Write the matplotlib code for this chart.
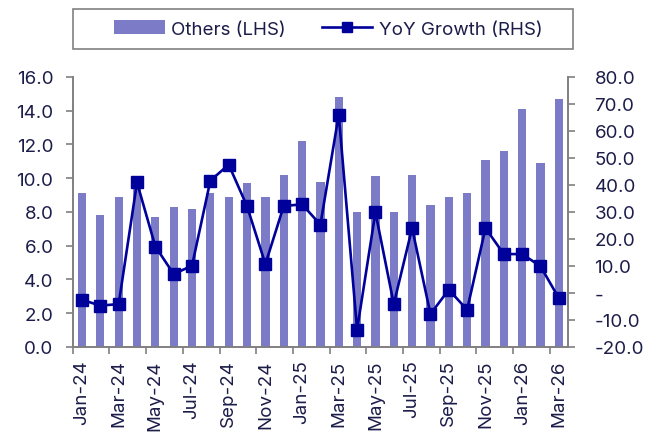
import numpy as np
import matplotlib.pyplot as plt
from matplotlib.patches import Rectangle
from matplotlib.ticker import FuncFormatter, FixedLocator

months = ['Jan-24', 'Feb-24', 'Mar-24', 'Apr-24', 'May-24', 'Jun-24', 'Jul-24', 'Aug-24', 'Sep-24',
          'Oct-24', 'Nov-24', 'Dec-24', 'Jan-25', 'Feb-25', 'Mar-25', 'Apr-25', 'May-25', 'Jun-25',
          'Jul-25', 'Aug-25', 'Sep-25', 'Oct-25', 'Nov-25', 'Dec-25', 'Jan-26', 'Feb-26', 'Mar-26']
others = [9.1, 7.8, 8.9, 10.0, 7.7, 8.3, 8.2, 9.1, 8.9, 9.7, 8.9, 10.2, 12.2, 9.8, 14.8,
          8.0, 10.1, 8.0, 10.2, 8.4, 8.9, 9.1, 11.1, 11.6, 14.1, 10.9, 14.7]
yoy = [-2.5, -4.7, -4.1, 40.9, 17.2, 7.0, 10.1, 41.6, 47.5, 32.1, 10.7, 32.2, 32.8, 25.3, 66.0,
       -13.6, 29.9, -4.1, 24.0, -7.8, 1.2, -6.2, 24.0, 14.4, 14.4, 9.9, -1.9]

txt = '#1c1c4a'
grey = '#808080'
plt.rcParams['font.family'] = ['Inter', 'DejaVu Sans']
fs = 13.5

fig = plt.figure(figsize=(6.62, 4.35), dpi=100)
ax = fig.add_axes([0.110, 0.2, 0.748, 0.621])
ax2 = ax.twinx()

x = np.arange(len(months))
bars = ax.bar(x, others, width=0.45, color='#7b7bc8', label='Others (LHS)', zorder=1)
line, = ax2.plot(x, yoy, color='#00009b', lw=1.9, marker='s', ms=9,
                 label='YoY Growth (RHS)', zorder=3)

ax.set_xlim(-0.5, len(months) - 0.5)
ax.set_ylim(0, 16)
ax.set_yticks(np.arange(0, 16.1, 2))
ax.yaxis.set_major_formatter(FuncFormatter(lambda v, p: f'{v:.1f}'))
ax2.set_ylim(-20, 80)
ax2.set_yticks(np.arange(-20, 80.1, 10))
ax2.yaxis.set_major_formatter(FuncFormatter(lambda v, p: '-' if abs(v) < 1e-9 else f'{v:.1f}'))

# labels on every other month, tick marks between the pairs
ax.xaxis.set_major_locator(FixedLocator(x[::2]))
ax.set_xticklabels(months[::2], rotation=90)
ax.xaxis.set_minor_locator(FixedLocator(np.arange(-0.5, len(months), 2)))
ax.tick_params(axis='x', which='major', length=0, pad=9)
ax.tick_params(axis='x', which='minor', length=5, width=1.2, color=grey, direction='out')

for a in (ax, ax2):
    a.spines['top'].set_visible(False)
    for s in ('left', 'right', 'bottom'):
        a.spines[s].set_color(grey)
        a.spines[s].set_linewidth(1.2)
    a.tick_params(axis='y', length=5, width=1.2, color=grey, labelsize=fs, labelcolor=txt)
ax.tick_params(axis='y', pad=9)
ax2.tick_params(axis='y', pad=14)
ax.tick_params(axis='x', labelsize=fs, labelcolor=txt)
ax.set_zorder(ax2.get_zorder() - 1)
ax2.patch.set_visible(False)

leg = fig.legend([bars, line], ['Others (LHS)', 'YoY Growth (RHS)'], ncol=2,
                 loc='center', bbox_to_anchor=(0.496, 0.931), frameon=False,
                 fontsize=fs, handlelength=2.7, columnspacing=1.9, handletextpad=0.35)
for t in leg.get_texts():
    t.set_color(txt)
leg.legend_handles[1].set_markersize(7)
fig.patches.append(Rectangle((0.110, 0.885), 0.756, 0.092, transform=fig.transFigure,
                             fill=False, edgecolor=grey, lw=1.2))

fig.savefig('out.png', dpi=100)
